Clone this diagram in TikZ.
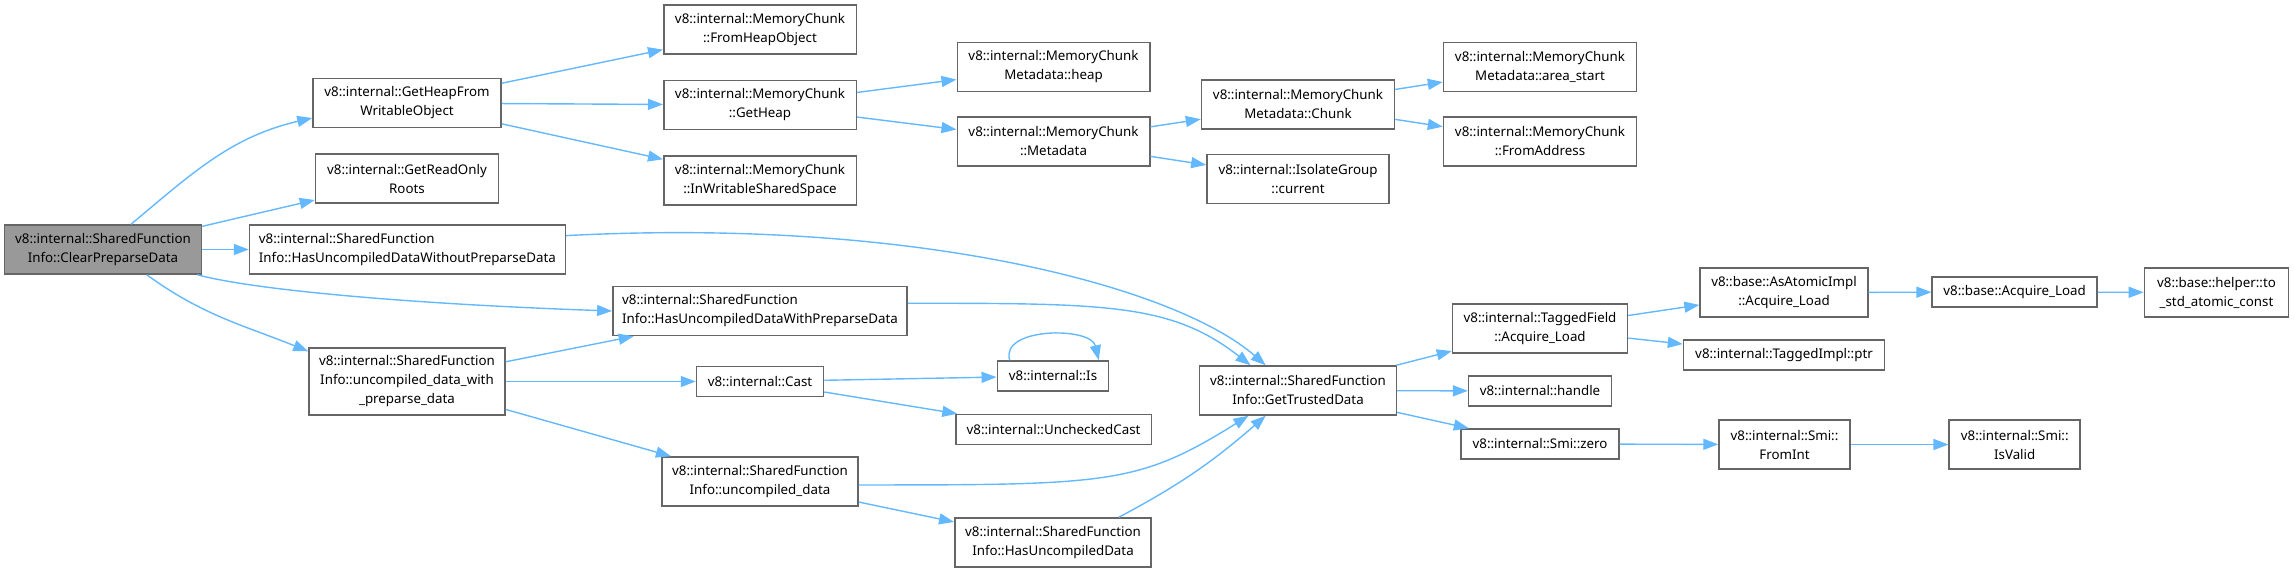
\documentclass[tikz,border=0pt]{standalone}
\usepackage{fontspec}
\setmainfont{Noto Sans}
\usetikzlibrary{arrows.meta, positioning}
\definecolor{callblue}{HTML}{63B8FF}
\definecolor{framegray}{HTML}{666666}
\definecolor{focusgray}{HTML}{999999}

\begin{document}
\begin{tikzpicture}[
    x=1pt, y=1pt,
    font=\fontsize{13.33}{19}\selectfont,
    fn/.style={draw=framegray, line width=1.5pt, align=center, inner xsep=0pt, inner ysep=0pt, minimum height=49pt},
    fnline/.style={fn, minimum height=30pt},
    focus/.style={fn, fill=focusgray},
    call/.style={-{Triangle[length=15pt, width=11pt]}, draw=callblue, line width=1.4pt}
  ]
    \useasboundingbox (0,0) rectangle (2294,-573);
    \node[focus, minimum width=197pt] (clear) at (103,-249.5)
    {v8::internal::SharedFunction\\Info::ClearPreparseData};
    \node[fn, minimum width=188pt] (heapfrom) at (407,-103)
    {v8::internal::GetHeapFrom\\WritableObject};
    \node[fn, minimum width=183pt, below=25pt of heapfrom] (readonly)
    {v8::internal::GetReadOnly\\Roots};
    \node[fn, minimum width=315.7pt, align=left] (hucwo) at (407.4,-249.5)
    {v8::internal::SharedFunction\\Info::HasUncompiledDataWithoutPreparseData};
    \node[fn, minimum width=196pt, minimum height=67pt] (ucwith) at (407,-381.5)
    {v8::internal::SharedFunction\\Info::uncompiled\_data\_with\\\_preparse\_data};
    \node[fn, minimum width=192.5pt] (fromheap) at (760,-29.5)
    {v8::internal::MemoryChunk\\::FromHeapObject};
    \node[fn, minimum width=192.5pt, below=25pt of fromheap] (getheap)
    {v8::internal::MemoryChunk\\::GetHeap};
    \node[fn, minimum width=192.5pt, below=25pt of getheap] (inwritable)
    {v8::internal::MemoryChunk\\::InWritableSharedSpace};
    \node[fn, minimum width=294.3pt, align=left] (hucwith) at (760,-311)
    {v8::internal::SharedFunction\\Info::HasUncompiledDataWithPreparseData};
    \node[fnline, minimum width=127pt] (cast) at (760,-381.5) {v8::internal::Cast};
    \node[fn, minimum width=196.3pt] (ucd) at (760,-481.5)
    {v8::internal::SharedFunction\\Info::uncompiled\_data};
    \node[fn, minimum width=192.5pt] (mcheap) at (1053.5,-67)
    {v8::internal::MemoryChunk\\Metadata::heap};
    \node[fn, minimum width=192.5pt, below=24pt of mcheap] (metadata)
    {v8::internal::MemoryChunk\\::Metadata};
    \node[fnline, minimum width=111.4pt] (is) at (1053,-376) {v8::internal::Is};
    \node[fnline, minimum width=195.6pt] (unchecked) at (1053.6,-429.5) {v8::internal::UncheckedCast};
    \node[fn, minimum width=196.4pt] (hud) at (1053,-542.5)
    {v8::internal::SharedFunction\\Info::HasUncompiledData};
    \node[fn, minimum width=193pt] (chunk) at (1298,-104.5)
    {v8::internal::MemoryChunk\\Metadata::Chunk};
    \node[fn, minimum width=182.2pt, below=24pt of chunk] (isolate)
    {v8::internal::IsolateGroup\\::current};
    \node[fn, minimum width=196.7pt] (trusted) at (1298,-390.5)
    {v8::internal::SharedFunction\\Info::GetTrustedData};
    \node[fn, minimum width=193pt] (areastart) at (1540,-67)
    {v8::internal::MemoryChunk\\Metadata::area\_start};
    \node[fn, minimum width=193pt, below=24pt of areastart] (fromaddr)
    {v8::internal::MemoryChunk\\::FromAddress};
    \node[fn, minimum width=175pt] (tfload) at (1540,-328.5)
    {v8::internal::TaggedField\\::Acquire\_Load};
    \node[fnline, minimum width=142.8pt] (handle) at (1540,-391) {v8::internal::handle};
    \node[fnline, minimum width=157.7pt] (smizero) at (1540,-444) {v8::internal::Smi::zero};
    \node[fn, minimum width=167.8pt] (atomicload) at (1784,-292.5)
    {v8::base::AsAtomicImpl\\::Acquire\_Load};
    \node[fnline, minimum width=201pt] (ptr) at (1784,-355) {v8::internal::TaggedImpl::ptr};
    \node[fnline, minimum width=164.8pt] (acqload) at (2014.6,-292) {v8::base::Acquire\_Load};
    \node[fn, minimum width=144.3pt] (helper) at (2216.5,-292.5)
    {v8::base::helper::to\\\_std\_atomic\_const};
    \node[fn, minimum width=131pt] (fromint) at (1784.5,-444.5)
    {v8::internal::Smi::\\FromInt};
    \node[fn, minimum width=131pt] (isvalid) at (2014.7,-444.5)
    {v8::internal::Smi::\\IsValid};
    \draw[call] (clear.42) to[out=40, in=193] (heapfrom.189);
    \draw[call] (clear) -- (readonly);
    \draw[call] (clear) -- (hucwo);
    \draw[call] (clear.-15) to[out=-15, in=178, out distance=60pt, in distance=200pt] (hucwith.west);
    \draw[call] (clear.-30) to[out=-36, in=158] (ucwith.163);
    \draw[call] (heapfrom) -- (fromheap);
    \draw[call] (heapfrom) -- (getheap);
    \draw[call] (heapfrom) -- (inwritable);
    \draw[call] (getheap) -- (mcheap);
    \draw[call] (getheap) -- (metadata);
    \draw[call] (metadata) -- (chunk);
    \draw[call] (metadata) -- (isolate);
    \draw[call] (chunk) -- (areastart);
    \draw[call] (chunk) -- (fromaddr);
    \draw[call] (hucwo.5) to[out=3, in=139, out distance=350pt, in distance=120pt] (trusted.142);
    \draw[call] (hucwith.3) to[out=0, in=142, out distance=200pt, in distance=100pt] (trusted.152);
    \draw[call] (ucwith) -- (hucwith);
    \draw[call] (ucwith) -- (cast);
    \draw[call] (ucwith) -- (ucd);
    \draw[call] (cast) -- (is);
    \draw[call] (cast) -- (unchecked);
    \draw[call] (is.160) to[out=107, in=103] (is.19);
    \draw[call] (ucd.-2) to[out=0, in=212, out distance=250pt, in distance=130pt] (trusted.207);
    \draw[call] (ucd) -- (hud);
    \draw[call] (hud.21) to[out=28, in=221] (trusted.218);
    \draw[call] (trusted) -- (tfload);
    \draw[call] (trusted) -- (handle);
    \draw[call] (trusted) -- (smizero);
    \draw[call] (tfload) -- (atomicload);
    \draw[call] (tfload) -- (ptr);
    \draw[call] (atomicload) -- (acqload);
    \draw[call] (acqload) -- (helper);
    \draw[call] (smizero) -- (fromint);
    \draw[call] (fromint) -- (isvalid);
  \end{tikzpicture}
\end{document}
